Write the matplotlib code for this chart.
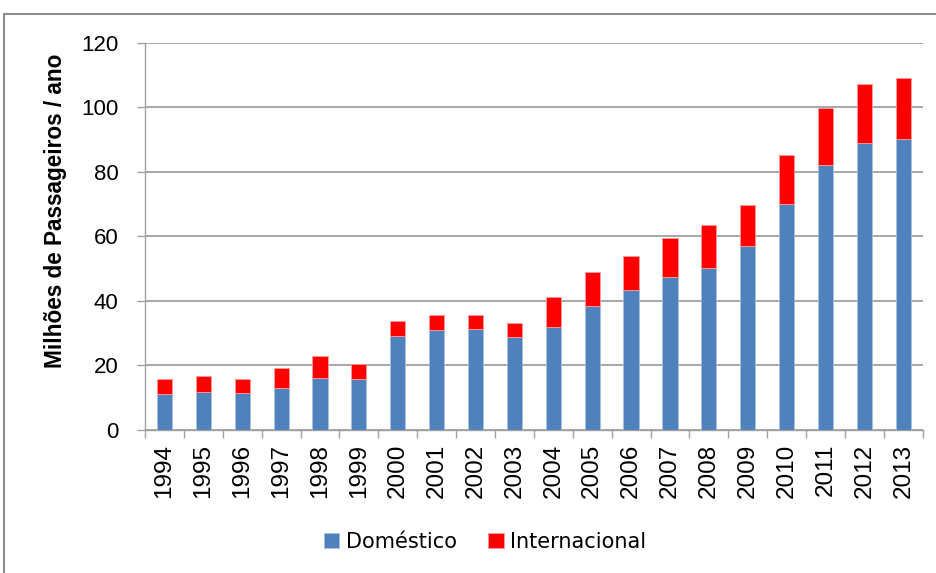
import numpy as np
import matplotlib
matplotlib.use('Agg')
import matplotlib.pyplot as plt
from matplotlib.patches import Rectangle

anos = ['1994', '1995', '1996', '1997', '1998', '1999', '2000', '2001', '2002', '2003',
        '2004', '2005', '2006', '2007', '2008', '2009', '2010', '2011', '2012', '2013']
domestico = [11.1, 11.9, 11.5, 13.1, 16.2, 15.8, 29.0, 31.1, 31.4, 28.7,
             31.9, 38.5, 43.3, 47.5, 50.2, 57.2, 70.2, 82.3, 88.9, 90.1]
total = [15.7, 16.6, 15.7, 19.3, 22.9, 20.4, 33.8, 35.7, 35.7, 33.3,
         41.2, 49.1, 54.0, 59.5, 63.6, 69.8, 85.3, 99.9, 107.3, 109.1]
internacional = [t - d for t, d in zip(total, domestico)]

azul = '#4F81BD'
vermelho = '#FF0000'
cinza = '#A0A0A0'

fig = plt.figure(figsize=(9.36, 5.73), dpi=100)
ax = fig.add_axes([0.1549, 0.2496, 0.8309, 0.6754])

x = np.arange(len(anos))
ax.bar(x, domestico, width=0.39, color=azul, edgecolor='#a9c1df', linewidth=0.6,
       label='Doméstico', zorder=3)
ax.bar(x, internacional, width=0.39, bottom=domestico, color=vermelho,
       edgecolor='#ff9a9a', linewidth=0.6, label='Internacional', zorder=3)

ax.set_xlim(-0.5, len(anos) - 0.5)
ax.set_ylim(0, 120)
ax.set_yticks(np.arange(0, 121, 20))
ax.yaxis.grid(True, color=cinza, linewidth=1.3, zorder=0)
ax.set_axisbelow(True)

ax.set_xticks(x)
ax.set_xticklabels(anos, rotation=90, fontsize=17.5, family=['Liberation Sans', 'DejaVu Sans'])
ax.set_xticks(np.arange(-0.5, len(anos), 1), minor=True)
ax.tick_params(axis='x', which='major', length=0, pad=10)
ax.tick_params(axis='x', which='minor', length=6, color=cinza, width=1)
ax.tick_params(axis='y', length=6, color=cinza, width=1, pad=13, labelsize=16)
for lb in ax.get_yticklabels():
    lb.set_family(['Liberation Sans', 'DejaVu Sans'])

for s in ['top', 'right']:
    ax.spines[s].set_visible(False)
for s in ['left', 'bottom']:
    ax.spines[s].set_color(cinza)
    ax.spines[s].set_linewidth(1)

ax.set_ylabel('Milhões de Passageiros / ano', fontsize=16.3, fontweight='bold',
              family=['Liberation Sans', 'DejaVu Sans'])
ax.yaxis.set_label_coords(-0.100, 0.566)

fig.legend(loc='center', bbox_to_anchor=(0.518, 0.054), ncol=2, frameon=False,
           fontsize=15, handlelength=0.75, handleheight=0.75, handletextpad=0.3,
           columnspacing=1.5)

fig.patches.append(Rectangle((4 / 936, -0.05), 1.1, (573 - 14) / 573 + 0.05,
                             transform=fig.transFigure, fill=False,
                             edgecolor='#8c8c8c', linewidth=1.5))

fig.savefig('out.png', dpi=100)
